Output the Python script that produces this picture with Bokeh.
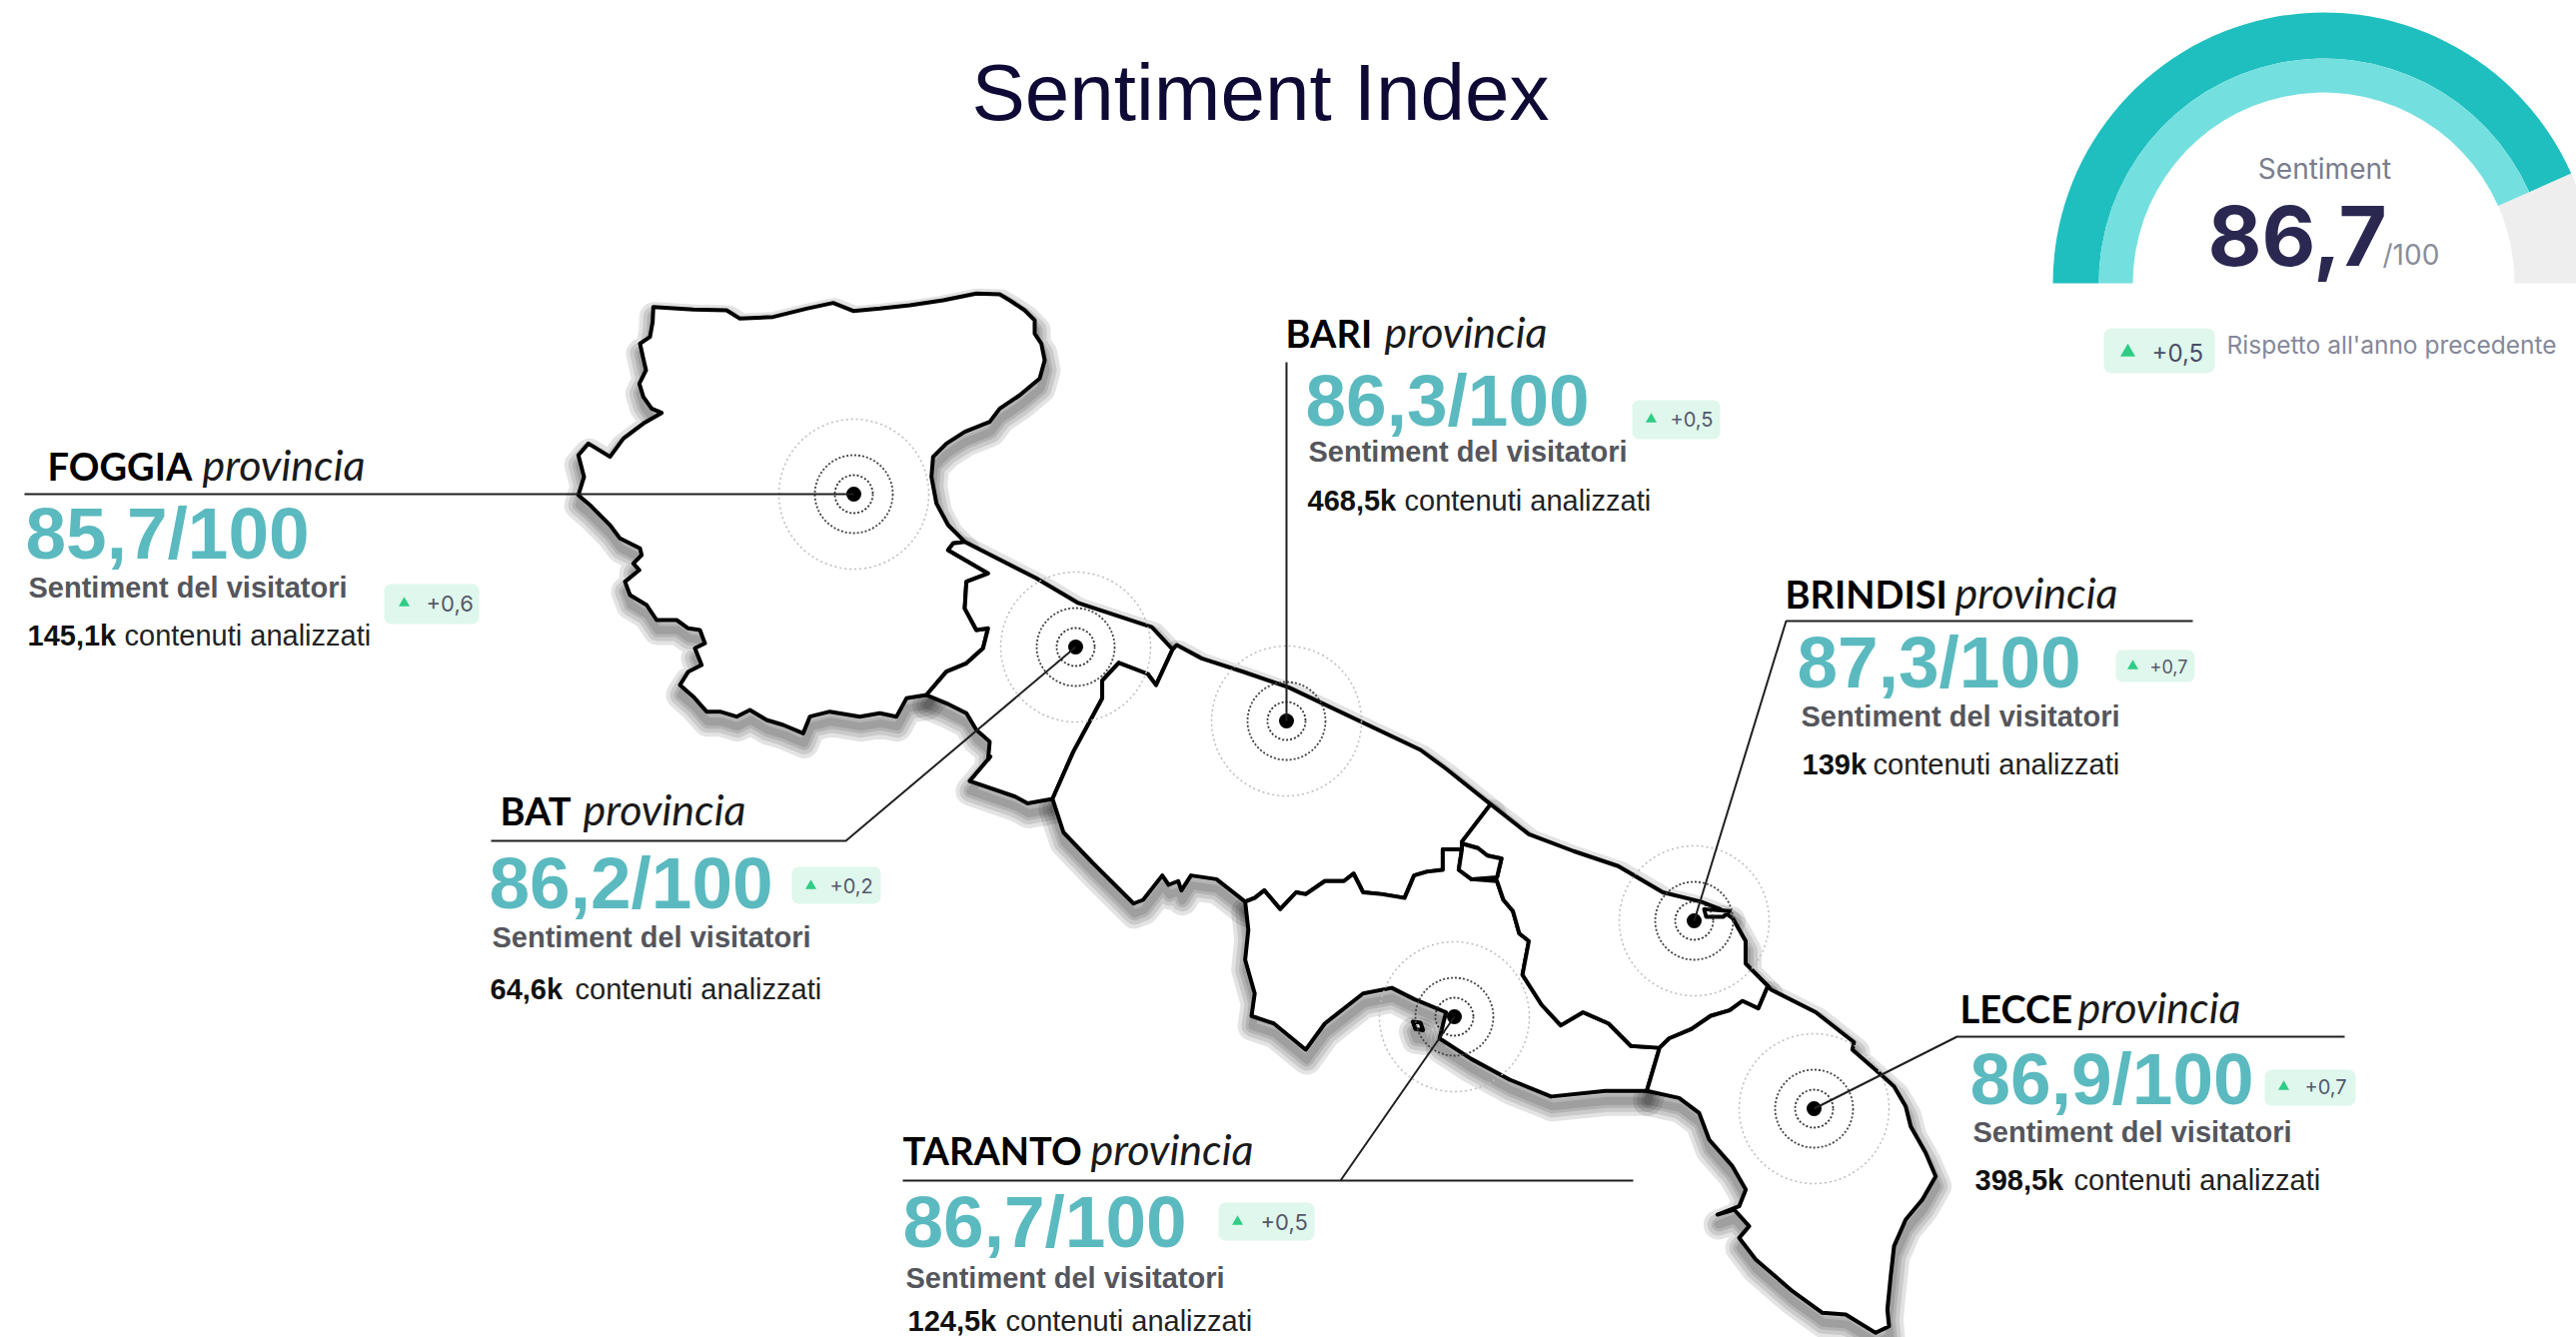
from math import pi
from bokeh.plotting import figure
from bokeh.models import Range1d, ColumnDataSource
from bokeh.core.properties import value
from bokeh.embed import file_html
from bokeh.resources import INLINE

# ---- chart values ----
PROVINCES = ["FOGGIA", "BAT", "BARI", "BRINDISI", "TARANTO", "LECCE"]
SCORES = ["85,7/100", "86,2/100", "86,3/100", "87,3/100", "86,7/100", "86,9/100"]
DELTAS = ["+0,6", "+0,2", "+0,5", "+0,7", "+0,5", "+0,7"]
CONTENTS = ["145,1k", "64,6k", "468,5k", "139k", "124,5k", "398,5k"]
OVERALL = 86.7
OVERALL_LABEL = "86,7"
OVERALL_DELTA = "+0,5"

# ---- map geometry ----
def A(pts):
    return [(x * 0.829, 270 + y * 0.4464) for x, y in pts]
def B(pts):
    return [(1000 + x * 0.638, 750 + y * 0.375) for x, y in pts]
def C(pts):
    return [(560 + x / 3, 280 + y / 3) for x, y in pts]
def D(pts):
    return [(1650 + x / 3, 1050 + y / 3) for x, y in pts]

F_OUT = C([(1165,810),(1180,790),(1215,785),(1165,735),(1130,670),(1115,590),(1120,530),(1160,490),(1215,455),(1290,425),(1320,385),(1380,345),(1440,295),(1455,240),(1445,190),(1425,160),(1425,120),(1395,90),(1350,60),(1320,42),(1250,40),(1150,60),(1050,75),(960,85),(880,92),(820,68),(740,85),(640,110),(540,115),(500,90),(400,88),(280,80),(278,125),(270,170),(240,190),(250,235),(258,270),(238,310),(250,350),(275,385),(305,398),(250,430),(190,475),(150,530),(85,490),(55,525),(72,590),(55,645),(90,675),(150,735),(180,775),(240,805),(245,825),(220,850),(238,870),(195,905),(210,945),(260,975),(290,1020),(350,1020),(385,1045),(420,1050),(435,1090),(405,1105),(425,1155),(385,1175),(360,1215),(400,1250),(440,1295),(480,1295),(530,1310),(570,1290),(620,1320),(670,1335),(730,1360),(750,1310),(810,1295),(900,1310),(960,1300),(1010,1310),(1040,1255),(1100,1245)])
F_BAT = C([(1100,1245),(1160,1175),(1220,1150),(1270,1105),(1285,1045),(1250,1050),(1215,985),(1220,905),(1285,880),(1165,810)])
BAT_S = C([(1100,1245),(1160,1270),(1220,1300),(1250,1350),(1290,1385),(1285,1440)]) + A([(1195,1090),(1170,1145),(1225,1180),(1240,1195),(1270,1185)])
BAT_BARI = A([(1270,1185),(1295,1080),(1330,960),(1330,920),(1350,880),(1385,905),(1395,930),(1415,850)])
BAT_COAST = A([(1415,850),(1390,800),(1300,745),(1250,690)]) + C([(1215,785),(1180,790),(1165,810)])
BARI_COAST = A([(1415,850),(1420,840),(1450,870),(1500,900),(1555,935)]) + B([(660,0),(700,50),(770,145)])
BARI_BR = B([(770,145),(725,245),(725,265)])
BARI_SW = B([(85,130),(100,220),(145,300),(210,410),(225,400),(255,335),(265,360),(280,350),(285,375),(300,335),(340,345),(385,405)])
TA_N = B([(385,405),(400,395),(415,375),(440,425),(465,380),(480,385),(510,350),(540,350),(555,330),(570,380),(600,385),(635,395),(650,335),(670,325),(695,320),(695,265),(725,265)])
STAR = B([(725,250),(750,262),(765,282),(787,290),(780,340),(740,345),(720,320),(725,265)])
TA_COAST = B([(385,405),(390,480),(385,560),(400,650),(395,710),(430,730),(480,800),(510,730),(570,650),(615,635),(650,665),(700,700),(690,770),(740,825),(800,880),(865,925),(950,910),(1015,910)])
TA_BR = B([(1035,795),(990,790),(955,730),(915,700),(880,735),(850,680),(820,600),(830,510),(815,490),(805,430),(790,400),(780,350),(740,345)])
LE_TA = B([(1015,910),(1035,795)])
BR_LE = B([(1035,795),(1050,770),(1085,745),(1115,710),(1145,695),(1165,670),(1190,690),(1205,630)])
BR_COAST = B([(1205,630),(1170,570),(1170,510),(1150,450),(1130,425),(1100,405),(1040,380),(970,310),(900,270),(830,225),(770,145)])
LE_COAST = B([(1015,910)]) + D([(90,145),(150,190),(180,270),(250,350),(290,420),(270,470),(205,495),(255,480),(300,530),(270,565),(320,630),(430,725),(520,790),(590,795),(680,850),(720,830),(715,780),(725,680),(735,590),(770,510),(820,450),(860,380),(830,310),(785,230),(770,170),(735,110),(690,70),(610,0)]) + B([(1340,780),(1280,700),(1210,640),(1205,630)])
ISLAND = B([(648,725),(660,728),(664,748),(652,745)])
PORT = B([(1105,425),(1145,430),(1135,445),(1108,445)])

POLYS = {
    "FOGGIA": F_OUT + F_BAT,
    "BAT": F_BAT[::-1] + BAT_S + BAT_BARI[1:] + BAT_COAST[1:],
    "BARI": BAT_BARI[::-1] + BARI_SW[1:] + TA_N[1:] + BARI_BR[::-1] + BARI_COAST[::-1],
    "TARANTO": TA_N + TA_BR[::-1] + LE_TA[::-1] + TA_COAST[::-1],
    "BRINDISI": BARI_BR[:-1] + STAR + TA_BR[::-1][1:] + BR_LE + BR_COAST,
    "LECCE": LE_COAST + BR_LE[::-1] + LE_TA[::-1],
    "STAR": STAR,
    "ISLAND": ISLAND,
    "PORT": PORT,
}
poly_xs = [[x for x, y in v] for v in POLYS.values()]
poly_ys = [[y for x, y in v] for v in POLYS.values()]

# ---- layout (reference pixels) ----
CENTER_X = [854, 1076, 1287, 1695, 1455, 1815]
CENTER_Y = [494, 647, 721, 921, 1017, 1109]
LEADERS = [
    ([24, 854], [494, 494]),
    ([491, 846, 1076], [841, 841, 647]),
    ([1287, 1287], [362, 721]),
    ([2194, 1787, 1695], [621, 621, 921]),
    ([903, 1634, 1341, 1455], [1181, 1181, 1181, 1017]),
    ([2346, 1958, 1815], [1037, 1037, 1109]),
]
HEAD_X = [47, 500, 1286, 1786, 903, 1961]
HEAD_Y = [479, 824, 346, 607, 1164, 1022]
PROV_X = [202, 583, 1385, 1956, 1091, 2079]
SCORE_X = [25, 489, 1306, 1798, 903, 1971]
SCORE_Y = [559, 909, 426, 688, 1248, 1105]
SUB_X = [28, 492, 1309, 1802, 906, 1974]
SUB_Y = [598, 948, 462, 727, 1289, 1143]
CONT_X = [27, 490, 1308, 1803, 908, 1976]
CONT_Y = [646, 1000, 511, 775, 1332, 1191]
CONT2_X = [124, 575, 1405, 1874, 1006, 2075]
BADGE_L = [384, 792, 1633, 2117, 1219, 2266]
BADGE_R = [479, 881, 1721, 2196, 1315, 2357]
BADGE_T = [584, 867, 400, 650, 1203, 1070]
BADGE_B = [624, 904, 439, 682, 1241, 1106]
TRI_X = [404, 811, 1652, 2134, 1238, 2285]
TRI_Y = [603, 886, 419, 666, 1222, 1087]
DELTA_X = [426, 830, 1671, 2151, 1261, 2306]
DELTA_SIZE = [22, 20, 20, 18, 22, 20]

p = figure(width=2578, height=1338, x_range=Range1d(0, 2578), y_range=Range1d(1338, 0),
           toolbar_location=None, output_backend="svg", min_border=0)
p.axis.visible = False
p.grid.visible = False
p.outline_line_color = None
p.background_fill_color = "white"

# gauge
GX, GY = 2325, 283
end_angle = pi * OVERALL / 100
wedge = dict(x=[GX], y=[GY], line_color=None)
p.annular_wedge(inner_radius=191, outer_radius=271, start_angle=[pi - end_angle], end_angle=[0], direction="clock", fill_color="#EEEEEE", **wedge)
p.annular_wedge(inner_radius=225, outer_radius=271, start_angle=[pi], end_angle=[pi - end_angle], direction="clock", fill_color="#1FBFBF", **wedge)
p.annular_wedge(inner_radius=191, outer_radius=225, start_angle=[pi], end_angle=[pi - end_angle], direction="clock", fill_color="#74DFDF", **wedge)

def txt(x, y, s, font, size, color, style="normal", align="left", center=False):
    """y is the text's baseline unless center=True"""
    xs = x if isinstance(x, list) else [x]
    ys = y if isinstance(y, list) else [y]
    shift = 0 if center else 0.36 * size
    p.text(x=xs, y=[v - shift for v in ys],
           text=s if isinstance(s, list) else [s], text_font=value(font),
           text_font_size=f"{size}px", text_color=color,
           text_font_style=style, text_align=align, text_baseline="middle")

txt(1261, 121, "Sentiment Index", "Liberation Sans", 80, "#0E0A35", align="center")
txt(2326, 179, "Sentiment", "Inter", 28, "#7A7D8C", align="center")
txt(2209, 265, OVERALL_LABEL, "Inter", 83, "#2A2850", style="bold")
txt(2384, 265, "/100", "Inter", 28, "#8A8D9A")
p.quad(left=[2105], right=[2216], top=[328], bottom=[373], fill_color="#DFF7EC", line_color=None, border_radius=8)
p.scatter(x=[2129], y=[352], marker="triangle", size=15, fill_color="#2ECC85", line_color=None)
txt(2153, 352, OVERALL_DELTA, "Inter", 24, "#4A4D66", center=True)
txt(2228, 344, "Rispetto all'anno precedente", "Inter", 24.5, "#85889A", center=True)

# map shadow
for w in (30, 22, 14, 8):
    p.patches(xs=[[x + 1 for x in xs] for xs in poly_xs], ys=[[y + 10 for y in ys] for ys in poly_ys],
              fill_color=None, line_color="black", line_alpha=0.11, line_width=w, line_join="round")
p.patches(xs=poly_xs, ys=poly_ys, fill_color="white", line_color="black", line_width=4, line_join="round")

# target circles
c = ColumnDataSource(dict(x=CENTER_X, y=CENTER_Y))
p.circle(x="x", y="y", radius=75, source=c, fill_color=None, line_color="#BDBDBD", line_width=1.5, line_dash="2 3")
p.circle(x="x", y="y", radius=39, source=c, fill_color=None, line_color="#444444", line_width=1.8, line_dash="2 2")
p.circle(x="x", y="y", radius=19, source=c, fill_color=None, line_color="#333333", line_width=1.8, line_dash="2 2")
p.circle(x="x", y="y", radius=7.5, source=c, fill_color="black", line_color=None)

# leaders
for xs, ys in LEADERS:
    p.line(xs, ys, line_color="#1F1F1F", line_width=2)

# labels
txt(HEAD_X, HEAD_Y, PROVINCES, "Lato", 38, "black", style="bold")
txt(PROV_X, HEAD_Y, ["provincia"] * 6, "Lato", 43, "#1A1A1A", style="italic")
txt(SCORE_X, SCORE_Y, SCORES, "Liberation Sans", 73, "#5BBABF", style="bold")
txt(SUB_X, SUB_Y, ["Sentiment del visitatori"] * 6, "Liberation Sans", 29, "#55565C", style="bold")
txt(CONT_X, CONT_Y, CONTENTS, "Liberation Sans", 29, "#111111", style="bold")
txt(CONT2_X, CONT_Y, ["contenuti analizzati"] * 6, "Liberation Sans", 29, "#222222")
p.quad(left=BADGE_L, right=BADGE_R, top=BADGE_T, bottom=BADGE_B, fill_color="#DFF7EC", line_color=None, border_radius=7)
p.scatter(x=TRI_X, y=TRI_Y, marker="triangle", size=11, fill_color="#2ECC85", line_color=None)
for x, y, s, fs in zip(DELTA_X, TRI_Y, DELTAS, DELTA_SIZE):
    txt(x, y, s, "Inter", fs, "#55586A", center=True)

open("out.html", "w").write(file_html(p, INLINE))
